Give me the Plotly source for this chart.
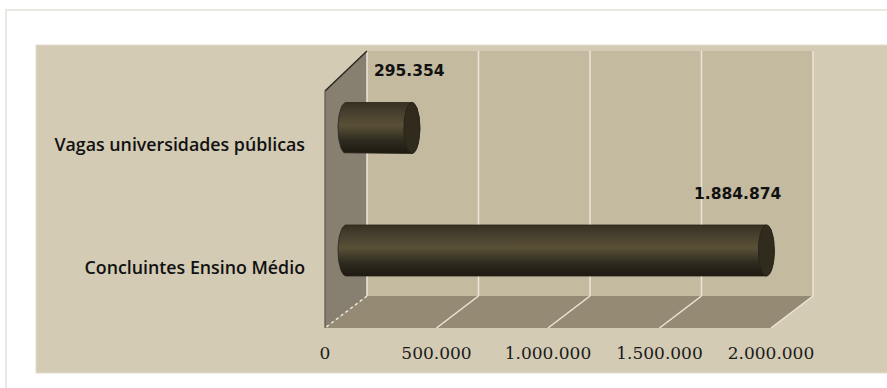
import numpy as np
import plotly.graph_objects as go

# ---------------- data ----------------
categories = ["Concluintes Ensino Médio", "Vagas universidades públicas"]
values = [1884874, 295354]
value_labels = ["1.884.874", "295.354"]
tick_vals = [0, 500000, 1000000, 1500000, 2000000]
tick_text = ["0", "500.000", "1.000.000", "1.500.000", "2.000.000"]

# ---------------- layout geometry ----------------
W, H = 887, 388
ML, MR, MT, MB = 320, 27, 48, 58
PW, PH = W - ML - MR, H - MT - MB
BOT = MT + PH
XK = 223 / 1e6      # px per x unit
X0PX = 26           # px from plot left to value 0 (mid depth)
YK = 122.5          # px per category step
Y0PX = 79.5         # px from plot bottom to category 0

x_range = [-X0PX / XK, (PW - X0PX) / XK]
y_range = [-Y0PX / YK, (PH - Y0PX) / YK]


def yd(py):
    return (BOT - py - Y0PX) / YK


def xp(px):
    return (px - ML) / PW


def yp(py):
    return (BOT - py) / PH


DEPTH = 21 / XK               # half-depth x shift in data units
Y_BACK_FLOOR, Y_FRONT_FLOOR = yd(296), yd(328)
Y_BACK_TOP, Y_FRONT_TOP = yd(51), yd(91)
XB0, XB1 = tick_vals[0] + DEPTH, tick_vals[-1] + DEPTH
XF0, XF1 = tick_vals[0] - DEPTH, tick_vals[-1] - DEPTH


def poly(pts):
    return "M " + " L ".join(f"{x},{y}" for x, y in pts) + " Z"


shapes = []
# outer frame (partially visible)
shapes.append(dict(type="rect", xref="paper", yref="paper", x0=xp(6), x1=xp(900), y0=yp(10), y1=yp(400),
                   line=dict(color="#ebe8e2", width=2), fillcolor="white", layer="below"))
# beige panel
shapes.append(dict(type="rect", xref="paper", yref="paper", x0=xp(36), x1=xp(900), y0=yp(45), y1=yp(373),
                   line=dict(color="#e2dccd", width=1), fillcolor="#d4cbb5", layer="below"))
# back wall
shapes.append(dict(type="rect", xref="x", yref="y", x0=XB0, x1=XB1, y0=Y_BACK_FLOOR, y1=Y_BACK_TOP,
                   line=dict(width=0), fillcolor="#c4baa0", layer="below"))
# floor
shapes.append(dict(type="path", xref="x", yref="y",
                   path=poly([(XB0, Y_BACK_FLOOR), (XB1, Y_BACK_FLOOR), (XF1, Y_FRONT_FLOOR), (XF0, Y_FRONT_FLOOR)]),
                   line=dict(width=0), fillcolor="#958b74", layer="below"))
# side wall
shapes.append(dict(type="path", xref="x", yref="y",
                   path=poly([(XF0, Y_FRONT_FLOOR), (XF0, Y_FRONT_TOP), (XB0, Y_BACK_TOP), (XB0, Y_BACK_FLOOR)]),
                   line=dict(width=0), fillcolor="#878071", layer="below"))
# gridlines on back wall and floor
for i, v in enumerate(tick_vals):
    shapes.append(dict(type="line", xref="x", yref="y", x0=v + DEPTH, x1=v + DEPTH,
                       y0=Y_BACK_FLOOR, y1=Y_BACK_TOP, line=dict(color="#ece6d8", width=1.5), layer="below"))
    shapes.append(dict(type="line", xref="x", yref="y", x0=v + DEPTH, x1=v - DEPTH,
                       y0=Y_BACK_FLOOR, y1=Y_FRONT_FLOOR,
                       line=dict(color="#ece6d8", width=1.5, dash="dot" if i == 0 else "solid"), layer="below"))
# side wall edges
shapes.append(dict(type="line", xref="x", yref="y", x0=XF0, x1=XB0, y0=Y_FRONT_TOP, y1=Y_BACK_TOP,
                   line=dict(color="#2a2820", width=1.5), layer="below"))
shapes.append(dict(type="line", xref="x", yref="y", x0=XF0, x1=XF0, y0=Y_FRONT_TOP, y1=Y_FRONT_FLOOR,
                   line=dict(color="#5d584c", width=1.2), layer="below"))

fig = go.Figure()

# ---------------- cylinders ----------------
RX = 8 / XK
HY = 25.5 / YK
t_right = np.linspace(np.pi / 2, -np.pi / 2, 40)
t_left = np.linspace(3 * np.pi / 2, np.pi / 2, 40)
t_full = np.linspace(0, 2 * np.pi, 80)
for idx, (cat, v) in enumerate(zip(categories, values)):
    c = idx
    xs = list(v + RX * np.cos(t_right)) + list(0 + RX * np.cos(t_left))
    ys = list(c + HY * np.sin(t_right)) + list(c + HY * np.sin(t_left))
    xs.append(xs[0]); ys.append(ys[0])
    fig.add_trace(go.Scatter(
        x=xs, y=ys, mode="lines", fill="toself", name=cat,
        line=dict(color="#28241a", width=0.8),
        fillgradient=dict(type="vertical",
                          colorscale=[[0, "#1e1a12"], [0.25, "#2e2a1f"], [0.55, "#595036"],
                                      [0.8, "#474030"], [1, "#363021"]]),
        hoverinfo="skip", showlegend=False))
    fig.add_trace(go.Scatter(
        x=list(v + RX * np.cos(t_full)), y=list(c + HY * np.sin(t_full)),
        mode="lines", fill="toself", fillcolor="#302b1d",
        line=dict(color="#25211a", width=0.8), hoverinfo="skip", showlegend=False))

# ---------------- value labels ----------------
label_shift = [(-28.5, 56.5), (-2, 57)]
annotations = []
for idx, (v, lab) in enumerate(zip(values, value_labels)):
    annotations.append(dict(x=v, y=idx, xref="x", yref="y", text=f"<b>{lab}</b>", showarrow=False,
                            xshift=label_shift[idx][0], yshift=label_shift[idx][1],
                            font=dict(family="DejaVu Sans", size=15.5, color="#111111")))

fig.update_layout(
    width=W, height=H, margin=dict(l=ML, r=MR, t=MT, b=MB, pad=0),
    paper_bgcolor="white", plot_bgcolor="rgba(0,0,0,0)",
    shapes=shapes, annotations=annotations, showlegend=False,
    xaxis=dict(range=x_range, tickmode="array", tickvals=tick_vals, ticktext=tick_text,
               showgrid=False, zeroline=False, showline=False, ticks="",
               ticklabelshift=-21, ticklabelstandoff=11,
               tickfont=dict(family="DejaVu Serif", size=17, color="#1a1a1a"), fixedrange=True),
    yaxis=dict(range=y_range, tickmode="array", tickvals=[0, 1], ticktext=categories,
               showgrid=False, zeroline=False, showline=False, ticks="",
               ticklabelshift=17, ticklabelstandoff=14,
               tickfont=dict(family="Open Sans", size=17.8, color="#111111", weight=600), fixedrange=True),
)

fig.write_html("out.html")
